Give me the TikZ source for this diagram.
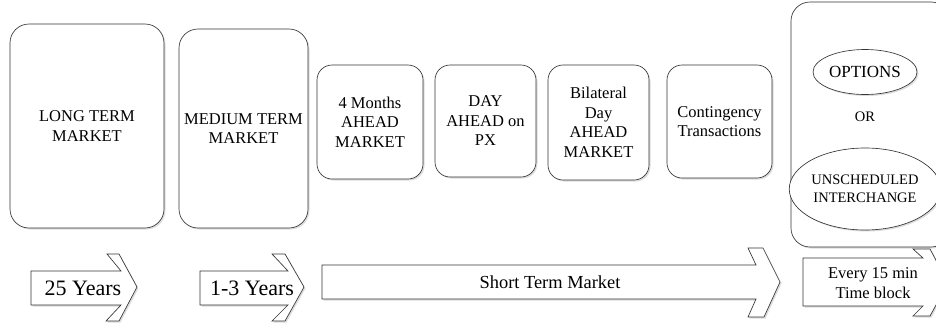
\documentclass[tikz,border=0pt]{standalone}
\usepackage{fontspec}
\setmainfont{Liberation Serif}
\usetikzlibrary{shapes.geometric,shadows}
\tikzset{
  shad/.style={drop shadow={shadow xshift=1.5pt, shadow yshift=-1.5pt, fill=black!30, opacity=0.45}},
  mbox/.style={draw=black!80, line width=0.65pt, fill=white, shad, rectangle, rounded corners=#1, inner sep=0pt, align=center, font=\fontsize{16.5}{19.5}\selectfont},
  mbox/.default=15pt,
  oval/.style={draw=black!80, line width=0.65pt, fill=white, shad, ellipse, inner sep=0pt, align=center},
  arr/.style={draw=black!80, line width=0.65pt, fill=white, shad, line join=miter},
  lbl/.style={inner sep=0pt, align=center}
}
\begin{document}
\begin{tikzpicture}[x=1pt, y=-1pt]
\useasboundingbox (0,0) rectangle (936,327);
\clip (0,0) rectangle (936,327);
% boxes
\node[mbox=19pt, minimum width=154pt, minimum height=204pt] (lt) at (87,126) {LONG TERM\\MARKET};
\node[mbox=19pt, minimum width=129pt, minimum height=199pt] (mt) at (243.5,128.5) {MEDIUM TERM\\MARKET};
\node[mbox, minimum width=106pt, minimum height=114pt] (fm) at (370,122) {4 Months\\AHEAD\\MARKET};
\node[mbox, minimum width=101pt, minimum height=112pt] (da) at (485.5,121) {DAY\\AHEAD on\\PX};
\node[mbox, minimum width=101pt, minimum height=115pt] (bd) at (598.5,122.5) {Bilateral\\Day\\AHEAD\\MARKET};
\node[mbox, minimum width=105pt, minimum height=113pt] (ct) at (719.5,121.5) {Contingency\\Transactions};
\node[mbox=19pt, minimum width=159pt, minimum height=245pt] (rt) at (870.5,124.5) {};
% ellipses
\node[oval, minimum width=104pt, minimum height=45pt, font=\fontsize{17}{20}\selectfont] (op) at (865,72) {OPTIONS};
\node[lbl, font=\fontsize{14.5}{17}\selectfont] (or) at (865,117) {OR};
\node[oval, minimum width=140pt, minimum height=82pt, font=\fontsize{14.5}{18}\selectfont] (ui) at (865,189) {UNSCHEDULED\\INTERCHANGE};
% arrows
\draw[arr] (31,271) -- (121,271) -- (107,254) -- (119,254) -- (137,287) -- (119,321) -- (106,321) -- (121,305) -- (31,305) -- cycle;
\node[lbl, font=\fontsize{22}{24}\selectfont] (y25) at (83,288) {25 Years};
\draw[arr] (200,271) -- (288,271) -- (272,254) -- (285,254) -- (304,287) -- (285,321) -- (272,321) -- (288,305) -- (200,305) -- cycle;
\node[lbl, font=\fontsize{22}{24}\selectfont] (y13) at (252,288) {1-3 Years};
\draw[arr] (322,265) -- (756,265) -- (748,248) -- (763,248) -- (780,282) -- (764,317) -- (748,317) -- (756,299) -- (322,299) -- cycle;
\node[lbl, font=\fontsize{18.4}{20}\selectfont] (st) at (550,282) {Short Term Market};
\draw[arr] (803,258) -- (923,258) -- (913,249) -- (930,249) -- (948,283) -- (930,316) -- (913,316) -- (923,306) -- (803,306) -- cycle;
\node[lbl, font=\fontsize{16.5}{20}\selectfont] (ev) at (873,283) {Every 15 min\\Time block};
\end{tikzpicture}
\end{document}
